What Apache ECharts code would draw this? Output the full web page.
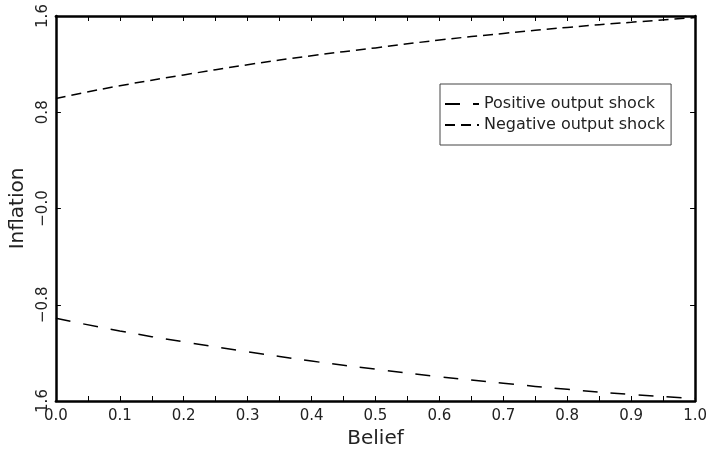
<!DOCTYPE html>
<html>
<head>
<meta charset="utf-8">
<script src="https://cdn.jsdelivr.net/npm/echarts@6/dist/echarts.min.js"></script>
<style>
  html, body { margin: 0; padding: 0; background: #fff; }
  #main { width: 710px; height: 457px; }
</style>
</head>
<body>
<div id="main"></div>
<script>
// belief on the x axis, inflation for each shock
var belief = [0, 0.1, 0.2, 0.3, 0.4, 0.5, 0.6, 0.7, 0.8, 0.9, 1.0];
var positiveShock = [-0.912, -1.018, -1.108, -1.19, -1.268, -1.335, -1.398, -1.452, -1.503, -1.545, -1.58];
var negativeShock = [0.915, 1.02, 1.11, 1.195, 1.27, 1.335, 1.40, 1.455, 1.505, 1.548, 1.587];
var yTickLabels = { '1.6': '1.6', '0.8': '0.8', '0': '\u22120.0', '-0.8': '\u22120.8', '-1.6': '1.6' };

var font = 'DejaVu Sans';
var myChart = echarts.init(document.getElementById('main'));

function pairs(ys) {
  return belief.map(function (b, i) { return [b, ys[i]]; });
}

var axisLine = { show: true, onZero: false, lineStyle: { color: '#000', width: 2.5 } };
var tick = { show: true, inside: true, length: 5, lineStyle: { color: '#000', width: 1 } };

myChart.setOption({
  animation: false,
  grid: { left: 54, right: 14, top: 16, bottom: 56 },
  legend: {
    left: 440,
    top: 84,
    orient: 'vertical',
    padding: [12, 6, 12, 4],
    itemGap: 5,
    itemWidth: 34,
    itemHeight: 12,
    borderColor: '#444',
    borderWidth: 1,
    itemStyle: { opacity: 0 },
    textStyle: { fontFamily: font, fontSize: 16, color: '#222' },
    data: ['Positive output shock', 'Negative output shock']
  },
  xAxis: [{
    type: 'value', min: 0, max: 1, interval: 0.05,
    name: 'Belief', nameLocation: 'middle', nameGap: 28,
    nameTextStyle: { fontFamily: font, fontSize: 20, color: '#222' },
    axisLine: axisLine, axisTick: tick, splitLine: { show: false },
    axisLabel: {
      fontFamily: font, fontSize: 15, color: '#222', margin: 8,
      formatter: function (v) { return Math.round(v * 100) % 10 === 0 ? v.toFixed(1) : ''; }
    }
  }, {
    type: 'value', min: 0, max: 1, interval: 0.05, position: 'top',
    axisLine: axisLine, axisTick: tick, splitLine: { show: false }, axisLabel: { show: false }
  }],
  yAxis: [{
    type: 'value', min: -1.6, max: 1.6, interval: 0.8,
    name: 'Inflation', nameLocation: 'middle', nameGap: 24,
    nameTextStyle: { fontFamily: font, fontSize: 20, color: '#222' },
    axisLine: axisLine, axisTick: tick, splitLine: { show: false },
    axisLabel: {
      fontFamily: font, fontSize: 15, color: '#222', rotate: 90, margin: 5,
      formatter: function (v) { return yTickLabels[String(Math.round(v * 10) / 10)]; }
    }
  }, {
    type: 'value', min: -1.6, max: 1.6, interval: 0.8, position: 'right',
    axisLine: axisLine, axisTick: tick, splitLine: { show: false }, axisLabel: { show: false }
  }],
  series: [{
    name: 'Positive output shock',
    type: 'line', smooth: true, symbol: 'none',
    data: pairs(positiveShock),
    lineStyle: { color: '#000', width: 1.5, type: [15, 13] },
    itemStyle: { color: '#000' }
  }, {
    name: 'Negative output shock',
    type: 'line', smooth: true, symbol: 'none',
    data: pairs(negativeShock),
    lineStyle: { color: '#000', width: 1.5, type: [10, 6] },
    itemStyle: { color: '#000' }
  }]
});
</script>
</body>
</html>
